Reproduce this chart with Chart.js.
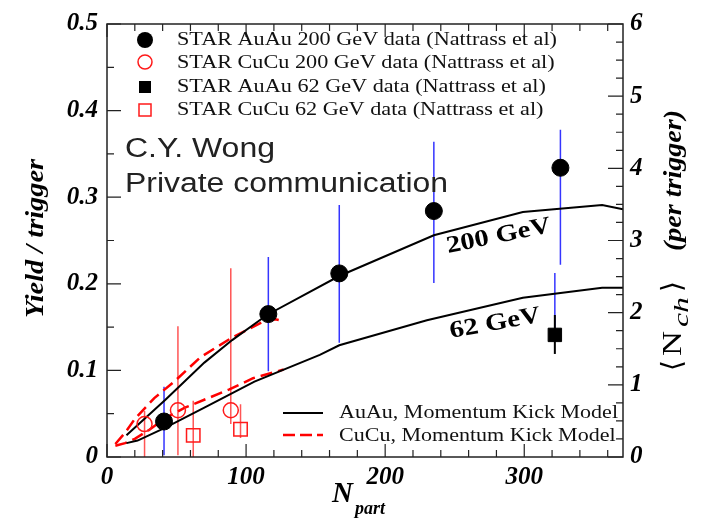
<!DOCTYPE html>
<html>
<head>
<meta charset="utf-8">
<script src="https://cdn.jsdelivr.net/npm/chart.js@4.4.0/dist/chart.umd.min.js"></script>
<style>
  body { margin: 0; background: #fff; }
  #wrap { width: 704px; height: 519px; }
</style>
</head>
<body>
<div id="wrap"><canvas id="myChart" width="704" height="519"></canvas></div>
<script>
// STAR data points (Npart, yield per trigger, error bar ends)
const auau200Npart = [41, 116, 167, 235, 326];
const auau200Yield = [0.041, 0.165, 0.212, 0.284, 0.334];
const auau200Lo = [0.002, 0.099, 0.132, 0.201, 0.222];
const auau200Hi = [0.081, 0.231, 0.291, 0.364, 0.378];

const cucu200Npart = [27, 51, 89];
const cucu200Yield = [0.038, 0.054, 0.054];
const cucu200Lo = [0.0, 0.002, 0.038];
const cucu200Hi = [0.053, 0.151, 0.218];

const auau62Npart = [322];
const auau62Yield = [0.141];
const auau62SysHi = [0.2125];
const auau62StatLo = [0.119];
const auau62StatHi = [0.164];

const cucu62Npart = [62, 96];
const cucu62Yield = [0.025, 0.032];
const cucu62Lo = [0.0, 0.022];
const cucu62Hi = [0.065, 0.061];

// momentum kick model curves
const mkAuau200Npart = [14, 42, 70, 90, 115, 167, 235, 299, 356, 371];
const mkAuau200Yield = [0.025, 0.066, 0.109, 0.135, 0.164, 0.209, 0.256, 0.283, 0.291, 0.286];
const mkAuau62Npart = [14, 22, 42, 70, 106, 153, 167, 230, 299, 356, 371];
const mkAuau62Yield = [0.016, 0.019, 0.034, 0.057, 0.087, 0.118, 0.129, 0.158, 0.184, 0.1955, 0.1955];
const mkCucu200Npart = [6, 13, 20, 34, 49, 67, 90, 112, 121, 127];
const mkCucu200Yield = [0.015, 0.028, 0.044, 0.068, 0.088, 0.115, 0.138, 0.156, 0.159, 0.157];
const mkCucu62Npart = [6, 13, 20, 30, 42, 56, 88, 105, 127];
const mkCucu62Yield = [0.013, 0.016, 0.021, 0.031, 0.045, 0.057, 0.078, 0.091, 0.101];

// axis ticks
const xTicks = [0, 100, 200, 300];
const yLeftTicks = [0, 0.1, 0.2, 0.3, 0.4, 0.5];
const yRightTicks = [0, 1, 2, 3, 4, 5, 6];

const legendLabels = [
  "STAR AuAu 200 GeV data (Nattrass et al)",
  "STAR CuCu 200 GeV data (Nattrass et al)",
  "STAR AuAu 62 GeV data (Nattrass et al)",
  "STAR CuCu 62 GeV data (Nattrass et al)"
];
const modelLabels = ["AuAu, Momentum Kick Model", "CuCu, Momentum Kick Model"];

const RED = "#ff1a1a";
const BLUE = "#3535ff";
const SERIF = '"Liberation Serif", "Times New Roman", serif';

function points(xs, ys) {
  return xs.map((x, i) => ({ x: x, y: ys[i] }));
}
// vertical bars as one line dataset, broken by null points
function bars(xs, lo, hi) {
  const out = [];
  xs.forEach((x, i) => {
    out.push({ x: x, y: lo[i] }, { x: x, y: hi[i] }, { x: x, y: null });
  });
  return out;
}

function barSet(data, color) {
  return { data, showLine: true, spanGaps: false, borderColor: color, borderWidth: 1.5,
    pointRadius: 0, order: 2 };
}
function modelSet(data, color, dash) {
  return { data, showLine: true, borderColor: color, borderWidth: dash ? 2.5 : 2,
    borderDash: dash || [], pointRadius: 0, tension: 0, order: 1 };
}

// frame and inward ticks on all sides
const frameTicks = {
  id: "frameTicks",
  afterDatasetsDraw(chart) {
    const { ctx, chartArea: a, scales } = chart;
    ctx.save();
    ctx.strokeStyle = "#222";
    ctx.lineWidth = 1.5;
    ctx.strokeRect(a.left, a.top, a.right - a.left, a.bottom - a.top);
    ctx.lineWidth = 1.2;
    ctx.beginPath();
    for (let v = 0; v <= 370; v += 20) {
      const px = scales.x.getPixelForValue(v);
      const len = v % 100 === 0 ? 13 : 7;
      ctx.moveTo(px, a.bottom); ctx.lineTo(px, a.bottom - len);
      ctx.moveTo(px, a.top); ctx.lineTo(px, a.top + len);
    }
    for (let i = 0; i <= 10; i++) {
      const py = scales.y.getPixelForValue(i * 0.05);
      const len = i % 2 === 0 ? 14 : 7;
      ctx.moveTo(a.left, py); ctx.lineTo(a.left + len, py);
    }
    for (let i = 0; i <= 24; i++) {
      const py = scales.y2.getPixelForValue(i * 0.25);
      const len = i % 4 === 0 ? 15 : 7;
      ctx.moveTo(a.right, py); ctx.lineTo(a.right - len, py);
    }
    ctx.stroke();
    ctx.restore();
  }
};

function fitText(ctx, text, x, y, sx) {
  ctx.save();
  ctx.translate(x, y);
  ctx.scale(sx, 1);
  ctx.fillText(text, 0, 0);
  ctx.restore();
}

const annotations = {
  id: "annotations",
  afterDraw(chart) {
    const ctx = chart.ctx;
    ctx.save();
    ctx.fillStyle = "#111";
    ctx.textBaseline = "alphabetic";

    // data legend
    const rows = [45, 68, 92, 115];
    const my = [40, 62, 87, 110];
    ctx.font = "18px " + SERIF;
    const s1 = 380 / ctx.measureText(legendLabels[0]).width;
    legendLabels.forEach((t, i) => fitText(ctx, t, 177, rows[i], s1));
    ctx.fillStyle = "#000";
    ctx.beginPath(); ctx.arc(145, my[0], 8, 0, Math.PI * 2); ctx.fill();
    ctx.fillRect(139, my[2] - 6, 12, 12);
    ctx.strokeStyle = RED; ctx.lineWidth = 1.5;
    ctx.beginPath(); ctx.arc(145, my[1], 7, 0, Math.PI * 2); ctx.stroke();
    ctx.strokeRect(139, my[3] - 6, 12, 12);

    // model legend
    ctx.fillStyle = "#111";
    ctx.font = "19px " + SERIF;
    const s2 = 279 / ctx.measureText(modelLabels[0]).width;
    fitText(ctx, modelLabels[0], 339, 418, s2);
    fitText(ctx, modelLabels[1], 339, 441, s2);
    ctx.strokeStyle = "#000"; ctx.lineWidth = 2;
    ctx.beginPath(); ctx.moveTo(283, 413); ctx.lineTo(323, 413); ctx.stroke();
    ctx.strokeStyle = "#ff0000"; ctx.lineWidth = 2.5; ctx.setLineDash([12, 5]);
    ctx.beginPath(); ctx.moveTo(283, 435); ctx.lineTo(323, 435); ctx.stroke();
    ctx.setLineDash([]);

    // credit text
    ctx.fillStyle = "#222";
    ctx.font = '27px "Liberation Sans", Arial, sans-serif';
    fitText(ctx, "C.Y. Wong", 125, 157, 150 / ctx.measureText("C.Y. Wong").width);
    fitText(ctx, "Private communication", 125, 192, 323 / ctx.measureText("Private communication").width);

    // curve labels
    ctx.fillStyle = "#000";
    ctx.font = "bold 24px " + SERIF;
    ctx.save(); ctx.translate(448, 253); ctx.rotate(-0.2);
    fitText(ctx, "200 GeV", 0, 0, 106 / ctx.measureText("200 GeV").width);
    ctx.restore();
    ctx.save(); ctx.translate(451, 338); ctx.rotate(-0.18);
    fitText(ctx, "62 GeV", 0, 0, 92 / ctx.measureText("62 GeV").width);
    ctx.restore();

    // axis titles
    ctx.font = "bold italic 25px " + SERIF;
    ctx.save(); ctx.translate(43, 318); ctx.rotate(-Math.PI / 2);
    fitText(ctx, "Yield / trigger", 0, 0, 159 / ctx.measureText("Yield / trigger").width);
    ctx.restore();

    ctx.font = "bold italic 29px " + SERIF;
    ctx.fillText("N", 332, 502);
    ctx.font = "bold italic 18px " + SERIF;
    ctx.fillText("part", 355, 514);

    // right title: <N_ch> (per trigger), drawn upward from the bottom
    ctx.save(); ctx.translate(681, 371); ctx.rotate(-Math.PI / 2);
    ctx.font = '28px "DejaVu Sans", sans-serif';
    ctx.fillText("\u27E8", 0, 0);
    ctx.font = "28px " + SERIF;
    fitText(ctx, "N", 15, 0, 25 / ctx.measureText("N").width);
    ctx.font = "italic 21px " + SERIF;
    fitText(ctx, "ch", 44, 7, 30 / ctx.measureText("ch").width);
    ctx.font = '28px "DejaVu Sans", sans-serif';
    ctx.fillText("\u27E9", 79, 0);
    ctx.font = "bold italic 26px " + SERIF;
    const pt = "(per trigger)";
    fitText(ctx, pt, 120, 0, 141 / ctx.measureText(pt).width);
    ctx.restore();

    ctx.restore();
  }
};

const tickFont = { family: SERIF, size: 25, weight: "bold", style: "italic" };

const chart = new Chart(document.getElementById("myChart"), {
  type: "scatter",
  data: {
    datasets: [
      { data: points(auau200Npart, auau200Yield), pointStyle: "circle", pointRadius: 8.5,
        backgroundColor: "#000", borderColor: "#000", order: 0 },
      { data: points(cucu200Npart, cucu200Yield), pointStyle: "circle", pointRadius: 7.5,
        backgroundColor: "rgba(0,0,0,0)", borderColor: RED, borderWidth: 1.5, order: 0 },
      { data: points(auau62Npart, auau62Yield), pointStyle: "rect", pointRadius: 9.5,
        backgroundColor: "#000", borderColor: "#000", order: 0 },
      { data: points(cucu62Npart, cucu62Yield), pointStyle: "rect", pointRadius: 9.5,
        backgroundColor: "rgba(0,0,0,0)", borderColor: RED, borderWidth: 1.5, order: 0 },
      modelSet(points(mkAuau200Npart, mkAuau200Yield), "#000"),
      modelSet(points(mkAuau62Npart, mkAuau62Yield), "#000"),
      modelSet(points(mkCucu200Npart, mkCucu200Yield), "#ff0000", [12, 6]),
      modelSet(points(mkCucu62Npart, mkCucu62Yield), "#ff0000", [12, 6]),
      barSet(bars(auau200Npart, auau200Lo, auau200Hi), BLUE),
      barSet(bars(cucu200Npart, cucu200Lo, cucu200Hi), "#ff5555"),
      barSet(bars(cucu62Npart, cucu62Lo, cucu62Hi), "#ff5555"),
      barSet(bars(auau62Npart, auau62Yield, auau62SysHi), BLUE),
      Object.assign(barSet(bars(auau62Npart, auau62StatLo, auau62StatHi), "#000"), { borderWidth: 2, order: 1 })
    ]
  },
  options: {
    responsive: false,
    animation: false,
    devicePixelRatio: 1,
    layout: { padding: { top: 17, left: 0, right: 0, bottom: 0 } },
    plugins: { legend: { display: false }, tooltip: { enabled: false } },
    scales: {
      x: {
        type: "linear", min: 0, max: 371,
        grid: { display: false, drawTicks: false },
        border: { display: false },
        afterFit: (s) => { s.height = 62; },
        afterBuildTicks: (s) => { s.ticks = xTicks.map((v) => ({ value: v })); },
        ticks: { color: "#000", font: tickFont, padding: 6, maxRotation: 0 }
      },
      y: {
        type: "linear", position: "left", min: 0, max: 0.5,
        grid: { display: false, drawTicks: false },
        border: { display: false },
        afterFit: (s) => { s.width = 107; },
        afterBuildTicks: (s) => { s.ticks = yLeftTicks.map((v) => ({ value: v })); },
        ticks: { color: "#000", font: tickFont, padding: 9,
          callback: (v) => (v === 0 ? "0" : v.toFixed(1)) }
      },
      y2: {
        type: "linear", position: "right", min: 0, max: 6,
        grid: { display: false, drawTicks: false },
        border: { display: false },
        afterFit: (s) => { s.width = 81; },
        afterBuildTicks: (s) => { s.ticks = yRightTicks.map((v) => ({ value: v })); },
        ticks: { color: "#000", font: tickFont, padding: 7 }
      }
    }
  },
  plugins: [frameTicks, annotations]
});
</script>
</body>
</html>
